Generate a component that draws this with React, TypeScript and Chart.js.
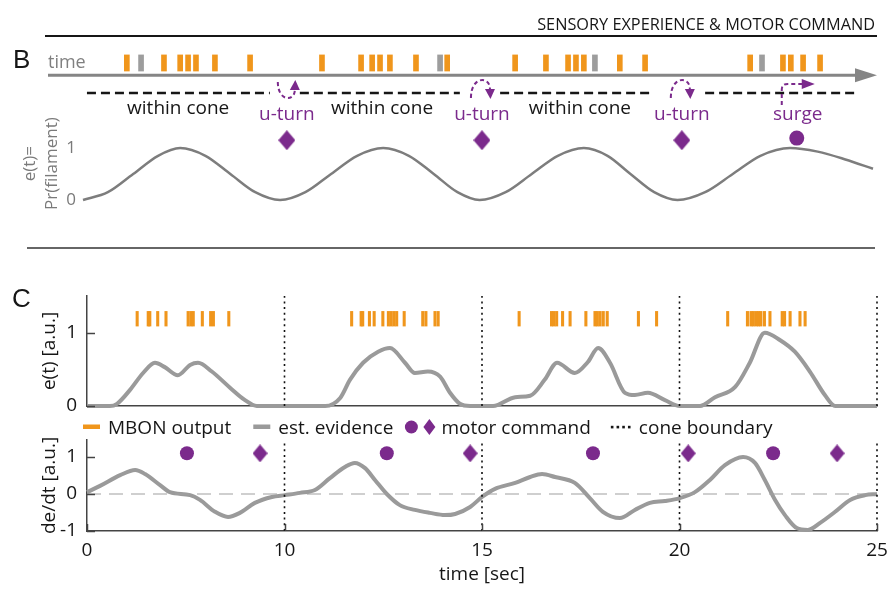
import React, { useEffect, useRef } from 'react';
import { Chart, registerables } from 'chart.js';

Chart.register(...registerables);

const FONT = "'Open Sans', 'DejaVu Sans', sans-serif";
const LETTER_FONT = "'Liberation Sans', Arial, sans-serif";
Chart.defaults.font.family = FONT;

const ORANGE = '#f0961c';
const SPIKE_GRAY = '#9d9d9d';
const PURPLE = '#7b2a8c';
const CURVE_GRAY = '#9a9a9a';
const B_GRAY = '#7d7d7d';
const AXIS = '#444444';
const INK = '#161616';

// ---------------- Panel B (schematic, arbitrary time units) ----------------
const bSpikeOrange = [1.11, 2.05, 2.46, 2.66, 2.86, 3.34, 4.23, 6.05, 7.04, 7.32, 7.52, 7.77, 8.43, 9.22, 10.94, 11.72, 12.28, 12.48, 12.68, 13.59, 14.23, 16.89, 17.72, 17.92, 18.23, 18.66];
const bSpikeGray = [1.47, 9.04, 12.96, 17.19];
const bCurveT = [0, 0.63, 1.27, 1.9, 2.46, 3.1, 3.73, 4.36, 4.99, 5.63, 6.28, 6.94, 7.6, 8.25, 8.88, 9.48, 10.04, 10.7, 11.36, 12.02, 12.68, 13.28, 13.86, 14.46, 15.05, 15.75, 16.45, 17.15, 17.9, 18.6, 19.3, 20];
const bCurveV = [0, 0.15, 0.5, 0.85, 1, 0.85, 0.5, 0.15, 0, 0.15, 0.5, 0.85, 1, 0.85, 0.5, 0.15, 0, 0.15, 0.5, 0.85, 1, 0.85, 0.5, 0.15, 0, 0.15, 0.5, 0.85, 1, 0.93, 0.78, 0.6];
const bConeStart = [0.1, 5.49, 10.56, 15.75];
const bConeEnd = [4.73, 9.54, 14.35, 19.54];
const bWithinConeAt = [2.41, 7.57, 12.58];
const bUTurnAt = [5.16, 10.1, 15.16];
const bUTurnDir = [1, -1, -1];
const bSurgeAt = [18.07];
const bYTicks = [0, 1];
const bWithinLabel = 'within cone';
const bUTurnLabel = 'u-turn';
const bSurgeLabel = 'surge';

// levels of the schematic rows, in e(t) units
const B_SPIKE_LO = 2.48;
const B_SPIKE_HI = 2.79;
const B_ARROW_Y = 2.4;
const B_CONE_Y = 2.06;
const B_MARK_Y = 1.15;

// ---------------- Panel C ----------------
const cSpikeTimes = [6.27, 6.55, 6.59, 6.79, 7.0, 7.56, 7.63, 7.69, 7.92, 8.13, 8.2, 8.59, 11.7, 11.94, 11.98, 12.15, 12.27, 12.49, 12.63, 12.7, 12.77, 12.84, 13.03, 13.5, 13.58, 13.81, 13.89, 15.94, 16.76, 16.82, 16.89, 17.04, 17.23, 17.63, 17.86, 17.92, 17.99, 18.07, 18.17, 18.96, 19.42, 21.22, 21.72, 21.81, 21.87, 21.94, 22.0, 22.06, 22.15, 22.29, 22.6, 22.66, 22.8, 23.05, 23.18];
const C_SPIKE_LO = 1.09;
const C_SPIKE_HI = 1.29;

const evT = [5.0, 5.58, 5.76, 6.09, 6.42, 6.72, 6.97, 7.3, 7.61, 7.81, 8.16, 8.62, 9.0, 9.3, 11.03, 11.41, 11.66, 11.99, 12.37, 12.67, 13.05, 13.3, 13.63, 13.94, 14.19, 14.44, 14.7, 15.28, 15.84, 16.22, 16.59, 16.9, 17.35, 17.68, 17.94, 18.24, 18.62, 18.87, 19.2, 19.63, 20.01, 20.52, 20.9, 21.41, 21.78, 22.16, 22.54, 22.92, 23.3, 23.68, 23.94, 25.0];
const evV = [0, 0, 0.03, 0.22, 0.45, 0.59, 0.53, 0.42, 0.56, 0.59, 0.47, 0.25, 0.08, 0, 0, 0.11, 0.36, 0.59, 0.74, 0.79, 0.59, 0.45, 0.47, 0.4, 0.18, 0.03, 0, 0, 0.12, 0.14, 0.36, 0.59, 0.45, 0.6, 0.79, 0.59, 0.18, 0.15, 0.18, 0.08, 0, 0, 0.12, 0.26, 0.59, 1.0, 0.9, 0.74, 0.47, 0.15, 0, 0];

const dT = [5.0, 5.33, 5.84, 6.22, 6.47, 6.85, 7.1, 7.61, 7.86, 8.24, 8.57, 8.87, 9.25, 9.68, 10.01, 10.39, 10.77, 11.15, 11.53, 11.78, 12.04, 12.29, 12.59, 12.92, 13.3, 13.68, 14.06, 14.32, 14.7, 15.0, 15.33, 15.84, 16.22, 16.52, 16.85, 17.35, 17.73, 18.06, 18.49, 18.87, 19.25, 19.63, 20.01, 20.39, 20.77, 21.15, 21.61, 21.91, 22.16, 22.42, 22.67, 22.97, 23.25, 23.56, 23.94, 24.32, 24.7, 25.0];
const dV = [0.05, 0.22, 0.51, 0.65, 0.54, 0.24, 0.05, -0.03, -0.16, -0.48, -0.62, -0.51, -0.24, -0.08, -0.03, 0.03, 0.11, 0.43, 0.73, 0.84, 0.7, 0.38, 0.0, -0.3, -0.43, -0.51, -0.57, -0.54, -0.35, -0.08, 0.14, 0.3, 0.46, 0.54, 0.46, 0.3, -0.11, -0.48, -0.65, -0.43, -0.24, -0.19, -0.11, 0.05, 0.38, 0.78, 1.0, 0.84, 0.38, -0.16, -0.57, -0.92, -0.97, -0.78, -0.48, -0.16, -0.03, 0.0];

const surgeTimes = [7.53, 12.59, 17.81, 22.37];
const uTurnTimes = [9.38, 14.7, 20.22, 23.99];
const MOTOR_LEVEL = 1.1;

const coneBoundaries = [10, 15, 20, 25];
const xTickValues = [5, 10, 15, 20, 25];
const xTickLabels = ['0', '10', '15', '20', '25'];
const c1YTicks = [0, 1];
const c2YTicks = [-1, 0, 1];
const legendLabels = ['MBON output', 'est. evidence', 'motor command', 'cone boundary'];

const W = 889;
const B_TOP = 0, B_H = 250;
const C1_TOP = 255, C1_H = 175;
const C2_TOP = 405, C2_H = 194;

// ---------------- helpers ----------------
function line(ctx: CanvasRenderingContext2D, x1: number, y1: number, x2: number, y2: number) {
  ctx.beginPath();
  ctx.moveTo(x1, y1);
  ctx.lineTo(x2, y2);
  ctx.stroke();
}

function diamondSprite(w: number, h: number): HTMLCanvasElement {
  const c = document.createElement('canvas');
  c.width = w;
  c.height = h;
  const g = c.getContext('2d')!;
  g.fillStyle = PURPLE;
  g.beginPath();
  g.moveTo(w / 2, 0);
  g.lineTo(w, h / 2);
  g.lineTo(w / 2, h);
  g.lineTo(0, h / 2);
  g.closePath();
  g.fill();
  return c;
}

const inwardTicks = {
  id: 'inwardTicks',
  afterDraw(chart: any, _args: any, opts: any) {
    const { ctx, chartArea, scales } = chart;
    ctx.save();
    ctx.strokeStyle = AXIS;
    ctx.lineWidth = 1.5;
    if (opts.y) {
      for (const t of scales.y.ticks) {
        const py = Math.round(scales.y.getPixelForValue(t.value)) + 0.5;
        line(ctx, chartArea.left, py, chartArea.left + 8, py);
      }
    }
    if (opts.x) {
      for (const t of scales.x.ticks) {
        const px = Math.round(scales.x.getPixelForValue(t.value)) + 0.5;
        line(ctx, px, chartArea.bottom, px, chartArea.bottom - 7);
      }
    }
    ctx.restore();
  },
};

function drawUTurn(ctx: CanvasRenderingContext2D, cx: number, yl: number, dir: number) {
  ctx.save();
  ctx.strokeStyle = PURPLE;
  ctx.fillStyle = PURPLE;
  ctx.lineWidth = 2;
  ctx.setLineDash([4, 3]);
  ctx.beginPath();
  if (dir < 0) {
    ctx.moveTo(cx - 11, yl + 5);
    ctx.bezierCurveTo(cx - 11, yl - 17, cx + 8, yl - 17, cx + 8, yl - 4);
  } else {
    ctx.moveTo(cx - 9, yl - 11);
    ctx.bezierCurveTo(cx - 9, yl + 9, cx + 8, yl + 9, cx + 8, yl - 3);
  }
  ctx.stroke();
  ctx.setLineDash([]);
  ctx.beginPath();
  if (dir < 0) {
    ctx.moveTo(cx + 3, yl - 4);
    ctx.lineTo(cx + 13, yl - 4);
    ctx.lineTo(cx + 8.5, yl + 6);
  } else {
    ctx.moveTo(cx + 3, yl - 3);
    ctx.lineTo(cx + 13, yl - 3);
    ctx.lineTo(cx + 8.5, yl - 13);
  }
  ctx.closePath();
  ctx.fill();
  ctx.restore();
}

function drawSurge(ctx: CanvasRenderingContext2D, cx: number, yl: number) {
  ctx.save();
  ctx.strokeStyle = PURPLE;
  ctx.fillStyle = PURPLE;
  ctx.lineWidth = 2;
  ctx.setLineDash([4, 3]);
  ctx.beginPath();
  ctx.moveTo(cx - 15, yl + 12);
  ctx.lineTo(cx - 15, yl - 3);
  ctx.quadraticCurveTo(cx - 15, yl - 9, cx - 9, yl - 9);
  ctx.lineTo(cx + 6, yl - 9);
  ctx.stroke();
  ctx.setLineDash([]);
  ctx.beginPath();
  ctx.moveTo(cx + 5, yl - 14);
  ctx.lineTo(cx + 18, yl - 9);
  ctx.lineTo(cx + 5, yl - 4);
  ctx.closePath();
  ctx.fill();
  ctx.restore();
}

const bDecor = {
  id: 'bDecor',
  afterDraw(chart: any) {
    const { ctx, scales } = chart;
    const xs = scales.x, ys = scales.y;
    ctx.save();
    ctx.textAlign = 'left';
    ctx.textBaseline = 'alphabetic';
    ctx.fillStyle = INK;
    ctx.font = `26px ${LETTER_FONT}`;
    ctx.fillText('B', 13, 68);
    ctx.font = `16.3px ${FONT}`;
    ctx.textAlign = 'right';
    ctx.fillText('SENSORY EXPERIENCE & MOTOR COMMAND', 875, 30);
    ctx.strokeStyle = INK;
    ctx.lineWidth = 2;
    line(ctx, 45, 36, 877, 36);
    ctx.strokeStyle = '#333';
    ctx.lineWidth = 1.5;
    line(ctx, 27, 248, 875, 248);

    // time arrow
    const ay = ys.getPixelForValue(B_ARROW_Y);
    ctx.strokeStyle = '#858585';
    ctx.fillStyle = '#858585';
    ctx.lineWidth = 3;
    line(ctx, 48, ay, 858, ay);
    ctx.beginPath();
    ctx.moveTo(855, ay - 7);
    ctx.lineTo(877, ay);
    ctx.lineTo(855, ay + 7);
    ctx.closePath();
    ctx.fill();
    ctx.textAlign = 'left';
    ctx.font = `18px ${FONT}`;
    ctx.fillStyle = '#808080';
    ctx.fillText('time', 48, ay - 7);

    const yl = ys.getPixelForValue(B_CONE_Y);
    ctx.textAlign = 'center';
    ctx.font = `19px ${FONT}`;
    ctx.fillStyle = INK;
    for (const t of bWithinConeAt) ctx.fillText(bWithinLabel, xs.getPixelForValue(t), yl + 21);
    ctx.fillStyle = PURPLE;
    bUTurnAt.forEach((t, i) => {
      const cx = xs.getPixelForValue(t);
      ctx.fillText(bUTurnLabel, cx, yl + 27);
      drawUTurn(ctx, cx, yl, bUTurnDir[i]);
    });
    for (const t of bSurgeAt) {
      const cx = xs.getPixelForValue(t);
      ctx.fillStyle = PURPLE;
      ctx.fillText(bSurgeLabel, cx + 1, yl + 27);
      drawSurge(ctx, cx, yl);
    }
    ctx.restore();
  },
};

const c1Decor = {
  id: 'c1Decor',
  afterDraw(chart: any) {
    const { ctx } = chart;
    ctx.save();
    ctx.fillStyle = INK;
    ctx.font = `26px ${LETTER_FONT}`;
    ctx.textAlign = 'left';
    ctx.textBaseline = 'alphabetic';
    ctx.fillText('C', 12, 307 - C1_TOP);
    ctx.restore();
  },
};

const c2Legend = {
  id: 'c2Legend',
  afterDraw(chart: any) {
    const { ctx, chartArea } = chart;
    const y = chartArea.top - 13;
    ctx.save();
    ctx.font = `19px ${FONT}`;
    ctx.textAlign = 'left';
    ctx.textBaseline = 'alphabetic';
    let x = 83;
    ctx.fillStyle = ORANGE;
    ctx.fillRect(x, y - 2.5, 17, 4.5);
    x += 25;
    ctx.fillStyle = INK;
    ctx.fillText(legendLabels[0], x, y + 7);
    x += ctx.measureText(legendLabels[0]).width + 22;
    ctx.fillStyle = CURVE_GRAY;
    ctx.fillRect(x, y - 2.5, 17, 4.5);
    x += 25;
    ctx.fillStyle = INK;
    ctx.fillText(legendLabels[1], x, y + 7);
    x += ctx.measureText(legendLabels[1]).width + 11;
    ctx.fillStyle = PURPLE;
    ctx.beginPath();
    ctx.arc(x + 7, y, 6.5, 0, Math.PI * 2);
    ctx.fill();
    ctx.beginPath();
    ctx.moveTo(x + 25, y - 8);
    ctx.lineTo(x + 31, y);
    ctx.lineTo(x + 25, y + 8);
    ctx.lineTo(x + 19, y);
    ctx.closePath();
    ctx.fill();
    x += 37;
    ctx.fillStyle = INK;
    ctx.fillText(legendLabels[2], x, y + 7);
    x += ctx.measureText(legendLabels[2]).width + 20;
    for (let k = 0; k < 4; k++) ctx.fillRect(x + k * 5.7, y - 1.2, 2.6, 2.6);
    x += 28;
    ctx.fillText(legendLabels[3], x, y + 7);
    ctx.restore();
  },
};

function coneLines(lo: number, hi: number) {
  return coneBoundaries.flatMap((b) => [
    { x: b, y: lo },
    { x: b, y: hi },
    { x: b, y: null },
  ]);
}

const noPad = (s: any) => {
  s.paddingLeft = 0;
  s.paddingRight = 0;
};

function makeB(): any {
  const spikes = [
    ...bSpikeOrange.map((t) => ({ t, c: ORANGE })),
    ...bSpikeGray.map((t) => ({ t, c: SPIKE_GRAY })),
  ].sort((a, b) => a.t - b.t);
  const cone = bConeStart.flatMap((s, i) => [
    { x: s, y: B_CONE_Y },
    { x: bConeEnd[i], y: B_CONE_Y },
    { x: bConeEnd[i], y: null },
  ]);
  return {
    type: 'line',
    data: {
      datasets: [
        {
          type: 'bar',
          data: spikes.map((s) => ({ x: s.t, y: [B_SPIKE_LO, B_SPIKE_HI] })),
          backgroundColor: spikes.map((s) => s.c),
          borderWidth: 0,
          barThickness: 5,
          clip: false,
        },
        {
          type: 'line',
          data: cone,
          borderColor: INK,
          borderWidth: 2.5,
          borderDash: [9, 5],
          pointRadius: 0,
          spanGaps: false,
          clip: false,
        },
        {
          type: 'line',
          data: bCurveT.map((t, i) => ({ x: t, y: bCurveV[i] })),
          borderColor: B_GRAY,
          borderWidth: 2.5,
          pointRadius: 0,
          cubicInterpolationMode: 'monotone',
          clip: false,
        },
        {
          type: 'scatter',
          data: bUTurnAt.map((t) => ({ x: t, y: B_MARK_Y })),
          pointStyle: diamondSprite(17, 20),
          pointRadius: 10,
          clip: false,
        },
        {
          type: 'scatter',
          data: bSurgeAt.map((t) => ({ x: t, y: B_MARK_Y + 0.04 })),
          pointStyle: 'circle',
          pointRadius: 7.5,
          backgroundColor: PURPLE,
          borderWidth: 0,
          clip: false,
        },
      ],
    },
    options: {
      responsive: false,
      animation: false,
      devicePixelRatio: 1,
      events: [],
      layout: { padding: { left: 0, right: 16, top: 111.6, bottom: 34.4 } },
      plugins: { legend: { display: false }, tooltip: { enabled: false } },
      scales: {
        x: { type: 'linear', display: false, min: 0, max: 20, offset: false },
        y: {
          type: 'linear',
          min: -0.3,
          max: 1.7,
          afterBuildTicks: (s: any) => {
            s.ticks = bYTicks.map((v) => ({ value: v }));
          },
          ticks: { color: '#7a7a7a', font: { size: 17 }, padding: 7 },
          grid: { display: false, drawTicks: false },
          border: { display: false },
          title: {
            display: true,
            text: ['e(t)=', 'Pr(filament)'],
            color: '#7a7a7a',
            font: { size: 17, lineHeight: 1.3 },
            padding: { top: 19, bottom: 0 },
          },
          afterFit: (s: any) => {
            s.width = 83;
          },
        },
      },
    },
    plugins: [bDecor],
  };
}

function makeC1(): any {
  return {
    type: 'line',
    data: {
      datasets: [
        {
          type: 'line',
          data: coneLines(0, 1.5),
          borderColor: '#111',
          borderWidth: 1.6,
          borderDash: [2, 3.7],
          pointRadius: 0,
          spanGaps: false,
          clip: false,
        },
        {
          type: 'bar',
          data: cSpikeTimes.map((t) => ({ x: t, y: [C_SPIKE_LO, C_SPIKE_HI] })),
          backgroundColor: ORANGE,
          borderWidth: 0,
          barThickness: 2.4,
        },
        {
          type: 'line',
          data: evT.map((t, i) => ({ x: t, y: evV[i] })),
          borderColor: CURVE_GRAY,
          borderWidth: 4,
          pointRadius: 0,
          cubicInterpolationMode: 'monotone',
          clip: false,
        },
      ],
    },
    options: {
      responsive: false,
      animation: false,
      devicePixelRatio: 1,
      events: [],
      layout: { padding: { left: 0, right: 12, top: 296 - C1_TOP, bottom: C1_H - (406 - C1_TOP) } },
      plugins: { legend: { display: false }, tooltip: { enabled: false }, inwardTicks: { y: true } },
      scales: {
        x: {
          type: 'linear',
          min: 5,
          max: 25,
          offset: false,
          ticks: { display: false },
          grid: { display: false, drawTicks: false },
          border: { display: true, color: AXIS, width: 1.5 },
          afterFit: (s: any) => {
            s.height = 0;
            noPad(s);
          },
        },
        y: {
          type: 'linear',
          min: 0,
          max: 1.5,
          afterBuildTicks: (s: any) => {
            s.ticks = c1YTicks.map((v) => ({ value: v }));
          },
          ticks: { color: INK, font: { size: 19 }, padding: 10 },
          grid: { display: false, drawTicks: false },
          border: { display: true, color: AXIS, width: 1.5 },
          title: {
            display: true,
            text: 'e(t) [a.u.]',
            color: INK,
            font: { size: 19 },
            padding: { top: 38.6, bottom: 0 },
          },
          afterFit: (s: any) => {
            s.width = 87;
          },
        },
      },
    },
    plugins: [inwardTicks, c1Decor],
  };
}

function makeC2(): any {
  return {
    type: 'line',
    data: {
      datasets: [
        {
          type: 'line',
          data: [
            { x: 5, y: 0 },
            { x: 25, y: 0 },
          ],
          borderColor: '#a0a0a0',
          borderWidth: 1.2,
          borderDash: [14, 8],
          pointRadius: 0,
        },
        {
          type: 'line',
          data: coneLines(-1, 1.41),
          borderColor: '#111',
          borderWidth: 1.6,
          borderDash: [2, 3.7],
          pointRadius: 0,
          spanGaps: false,
          clip: false,
        },
        {
          type: 'line',
          data: dT.map((t, i) => ({ x: t, y: dV[i] })),
          borderColor: CURVE_GRAY,
          borderWidth: 4,
          pointRadius: 0,
          cubicInterpolationMode: 'monotone',
          clip: false,
        },
        {
          type: 'scatter',
          data: surgeTimes.map((t) => ({ x: t, y: MOTOR_LEVEL })),
          pointStyle: 'circle',
          pointRadius: 7,
          backgroundColor: PURPLE,
          borderWidth: 0,
          clip: false,
        },
        {
          type: 'scatter',
          data: uTurnTimes.map((t) => ({ x: t, y: MOTOR_LEVEL })),
          pointStyle: diamondSprite(15, 18),
          pointRadius: 9,
          clip: false,
        },
      ],
    },
    options: {
      responsive: false,
      animation: false,
      devicePixelRatio: 1,
      events: [],
      layout: { padding: { left: 0, right: 12, top: 440 - C2_TOP, bottom: 0 } },
      plugins: { legend: { display: false }, tooltip: { enabled: false }, inwardTicks: { x: true, y: true } },
      scales: {
        x: {
          type: 'linear',
          min: 5,
          max: 25,
          offset: false,
          afterBuildTicks: (s: any) => {
            s.ticks = xTickValues.map((v) => ({ value: v }));
          },
          ticks: {
            color: INK,
            font: { size: 19 },
            padding: 8,
            maxRotation: 0,
            autoSkip: false,
            callback: (v: any) => {
              const i = xTickValues.indexOf(Number(v));
              return i >= 0 ? xTickLabels[i] : '';
            },
          },
          grid: { display: false, drawTicks: false },
          border: { display: true, color: AXIS, width: 1.5 },
          title: {
            display: true,
            text: 'time [sec]',
            color: INK,
            font: { size: 19 },
            padding: { top: 0, bottom: 12.6 },
          },
          afterFit: (s: any) => {
            s.height = C2_H - (531 - C2_TOP);
            noPad(s);
          },
        },
        y: {
          type: 'linear',
          min: -1,
          max: 1.46,
          afterBuildTicks: (s: any) => {
            s.ticks = c2YTicks.map((v) => ({ value: v }));
          },
          ticks: { color: INK, font: { size: 19 }, padding: 10 },
          grid: { display: false, drawTicks: false },
          border: { display: true, color: AXIS, width: 1.5 },
          title: {
            display: true,
            text: 'de/dt [a.u.]',
            color: INK,
            font: { size: 19 },
            padding: { top: 38.6, bottom: 0 },
          },
          afterFit: (s: any) => {
            s.width = 87;
          },
        },
      },
    },
    plugins: [inwardTicks, c2Legend],
  };
}

function ChartCanvas({ top, height, make }: { top: number; height: number; make: () => any }) {
  const ref = useRef<HTMLCanvasElement | null>(null);
  useEffect(() => {
    if (!ref.current) return;
    const chart = new Chart(ref.current, make());
    return () => chart.destroy();
  }, []);
  return (
    <canvas
      ref={ref}
      width={W}
      height={height}
      style={{ position: 'absolute', left: 0, top, width: W, height }}
    />
  );
}

export default function App() {
  return (
    <div
      style={{
        position: 'fixed',
        left: 0,
        top: 0,
        width: W,
        height: 599,
        background: '#ffffff',
        overflow: 'hidden',
      }}
    >
      <ChartCanvas top={B_TOP} height={B_H} make={makeB} />
      <ChartCanvas top={C1_TOP} height={C1_H} make={makeC1} />
      <ChartCanvas top={C2_TOP} height={C2_H} make={makeC2} />
    </div>
  );
}
